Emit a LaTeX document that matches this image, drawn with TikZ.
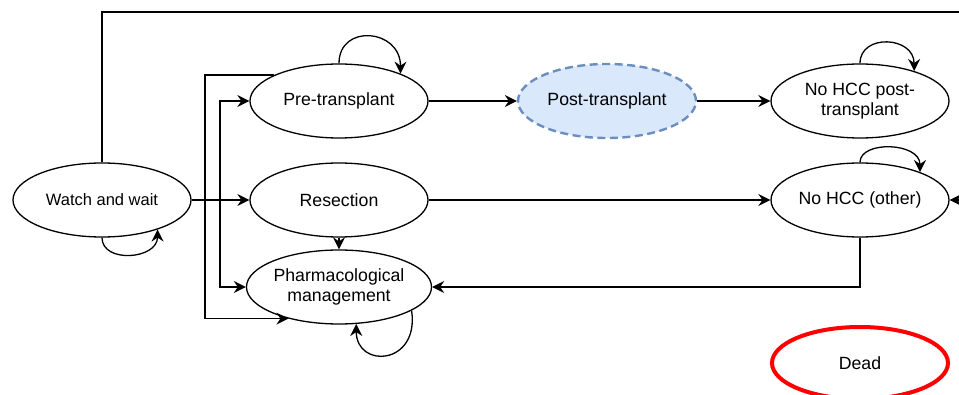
\documentclass[tikz,border=0pt]{standalone}
\usepackage{fontspec}
\setmainfont{Liberation Sans}
\usetikzlibrary{arrows.meta,shapes.geometric,calc}
\definecolor{postfill}{HTML}{DAE8FC}
\definecolor{postline}{HTML}{6C8EBF}
\tikzset{
	state/.style={ellipse,draw,line width=1.3pt,minimum width=178pt,minimum height=74pt,inner sep=0pt,align=center,font=\fontsize{17.7}{20}\selectfont},
	poststate/.style={state,fill=postfill,draw=postline,line width=2.4pt,dash pattern=on 8pt off 4.5pt},
	deadstate/.style={state,draw=red,line width=4pt,minimum width=176pt,minimum height=72pt},
	trans/.style={->,>={Stealth[width=12pt,length=12pt,inset=4pt]},line width=1.3pt},
	loopedge/.style={trans}
}
\begin{document}
\begin{tikzpicture}[x=1pt,y=1pt]
	\useasboundingbox (0,0) rectangle (959,394);

	%%states
	\node[state,font=\fontsize{16.5}{20}\selectfont] (ww) at (102,194) {Watch and wait};
	\node[state] (pre) at (339,293) {Pre-transplant};
	\node[state] (res) at (339,194) {Resection};
	\node[state] (pharm) at (339,107) {Pharmacological\\management};
	\node[poststate] (post) at (607,293) {Post-transplant};
	\node[state] (nhpost) at (860,293) {No HCC post-\\transplant};
	\node[state] (nhother) at (860,194) {No HCC (other)};
	\node[deadstate] (dead) at (860,31) {Dead};

	%%bend points
	\coordinate (split) at (220,194);
	\coordinate (bendl) at (205,194);
	\coordinate (topright) at (966,382);

	%%edges out of watch and wait
	\draw[trans] (ww.east) -- (res.west);
	\draw[trans] (ww.east) -- (split) |- (pre.west);
	\draw[trans] (split) |- (pharm.west);
	\draw[trans] (ww.north) |- (topright) |- (nhother.east);

	%%transplant branch
	\draw[trans] (pre.east) -- (post.west);
	\draw[trans] (post.east) -- (nhpost.west);
	\draw[trans] (pre.158) -| (bendl) |- (pharm.212);

	%%resection branch
	\draw[trans] (res.south) -- (pharm.north);
	\draw[trans] (res.east) -- (nhother.west);
	\draw[trans] (nhother.south) |- (pharm.east);

	%%self loops
	\draw[loopedge] (pre.north) .. controls +(0,40) and +(0,45) .. (pre.24);
	\draw[loopedge] (nhpost.north) .. controls +(0,30) and +(0,35) .. (nhpost.29);
	\draw[loopedge] (nhother.north) .. controls +(0,22) and +(0,30) .. (nhother.25);
	\draw[loopedge] (ww.south) .. controls +(0,-26) and +(0,-30) .. (ww.-28);
	\draw[loopedge] (pharm.-18) .. controls +(8,-55) and +(0,-45) .. (pharm.-65);
\end{tikzpicture}
\end{document}
